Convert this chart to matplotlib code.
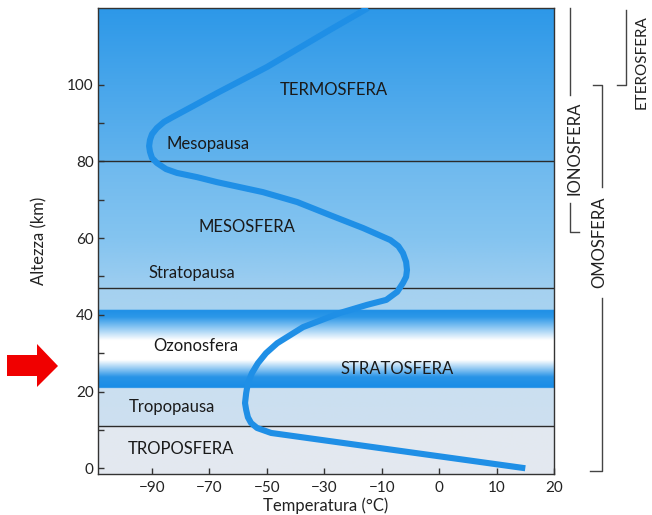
import numpy as np
import matplotlib
matplotlib.use('Agg')
import matplotlib.pyplot as plt
from matplotlib.patches import Polygon

plt.rcParams['font.family'] = ['Lato', 'DejaVu Sans']

# tick labels on the temperature axis (equally spaced on the page, uneven values)
tick_temps = [-90, -70, -50, -30, -10, 0, 10, 20]
alt_ticks = [0, 20, 40, 60, 80, 100]
alt_minor = [10, 30, 50, 70, 90]

# temperature profile (deg C, km)
temp = [15, -48.5, -53.4, -55.5, -56.6, -57.2, -57.6, -57.2, -56.6, -55.2, -53.1,
        -50.3, -46.4, -37.4, -24.5, -15.1, -9.2, -7.3, -6.3, -5.75, -5.6, -5.75,
        -6.3, -7.1, -8.5, -16.4, -28, -39.4, -51.4, -67.4, -74.3, -81.3, -85.1,
        -88.3, -90.0, -90.7, -91.0, -90.7, -90.0, -88.3, -85.8, -82.7, -75.0,
        -67.4, -50, -28, -14.8]
alt = [0, 9.2, 10.5, 11.8, 13.3, 15.2, 17.0, 19.6, 22.2, 24.8, 27.4,
       30.0, 32.6, 36.8, 40.5, 42.6, 43.9, 46.0, 48.3, 49.9, 51.7, 53.8,
       56.1, 57.9, 59.5, 62.6, 66.0, 69.4, 72.0, 74.6, 75.9, 77.0, 78.0,
       79.6, 80.9, 82.5, 84.0, 85.6, 87.1, 88.7, 90.3, 91.6, 94.7,
       97.8, 104.6, 114.3, 120.0]

# boundary lines (km)
pause_alts = [80, 47, 11]

# labels inside the plot: (text, x axes fraction, altitude)
layer_labels = [
    ('TERMOSFERA', 0.518, 98.5),
    ('Mesopausa', 0.241, 84.5),
    ('MESOSFERA', 0.327, 63.0),
    ('Stratopausa', 0.206, 51.0),
    ('Ozonosfera', 0.215, 32.0),
    ('STRATOSFERA', 0.656, 26.0),
    ('Tropopausa', 0.163, 16.0),
    ('TROPOSFERA', 0.182, 5.0),
]

# background colour stops (altitude, rgb)
bg_alt = [-1.5, 10.99, 11.01, 20.9, 20.91, 23.8, 28.2, 33.4, 39.4, 41.29, 41.31,
          46.99, 47.01, 60, 79.99, 80.01, 100, 120]
bg_rgb = [(228, 233, 240), (226, 232, 240), (205, 224, 240), (203, 223, 240),
          (25, 140, 230), (40, 148, 231), (255, 255, 255), (255, 255, 255),
          (45, 152, 232), (30, 143, 230), (168, 211, 240),
          (165, 209, 240), (158, 206, 240), (132, 196, 240), (110, 185, 238),
          (98, 179, 237), (72, 166, 235), (45, 152, 232)]

ylo, yhi = -1.5, 120

slot_t = np.array([-110] + tick_temps, dtype=float)
slot_i = np.arange(-1, len(tick_temps), dtype=float)


def fwd(t):
    return np.interp(t, slot_t, slot_i)


def inv(i):
    return np.interp(i, slot_i, slot_t)


fig = plt.figure(figsize=(6.52, 5.15), dpi=100)
pos = [98 / 652, 41 / 515, 456 / 652, 466 / 515]

# gradient background
bg = fig.add_axes(pos, zorder=0)
hh = np.linspace(ylo, yhi, 1500)
rgb = np.array(bg_rgb, dtype=float) / 255
col = np.stack([np.interp(hh, bg_alt, rgb[:, k]) for k in range(3)], axis=1)
bg.imshow(col[:, None, :], extent=(0, 1, ylo, yhi), origin='lower', aspect='auto',
          interpolation='bilinear')
bg.set_xlim(0, 1)
bg.set_ylim(ylo, yhi)
bg.axis('off')

ax = fig.add_axes(pos, zorder=1)
ax.patch.set_alpha(0)
ax.set_xscale('function', functions=(fwd, inv))
ax.set_xlim(-108.8, 20)
ax.set_ylim(ylo, yhi)

for a in pause_alts:
    ax.axhline(a, color='#2b2b2b', lw=1.0, zorder=2)

ax.plot(temp, alt, color='#1f8fe6', lw=4.4, solid_capstyle='butt',
        solid_joinstyle='round', zorder=3, clip_on=True)

for txt, xf, a in layer_labels:
    ax.text(xf, a, txt, transform=ax.get_yaxis_transform(), ha='center', va='center',
            fontsize=12, color='#1a1a1a', zorder=4)

ax.set_xticks(tick_temps)
ax.set_xticklabels(['\u2212' + str(-t) if t < 0 else str(t) for t in tick_temps])
ax.set_xticks([], minor=True)
ax.set_yticks(alt_ticks)
ax.set_yticks(alt_minor, minor=True)
ax.tick_params(which='both', direction='in', length=4.5, width=1, color='#333333',
               labelsize=11, labelcolor='#222222')
ax.tick_params(axis='y', pad=3)
ax.tick_params(axis='x', pad=5)
for s in ax.spines.values():
    s.set_color('#333333')
    s.set_linewidth(1.0)

ax.set_xlabel('Temperatura (°C)', fontsize=12, color='#222222', labelpad=2)
ax.set_ylabel('Altezza (km)', fontsize=12, color='#222222', labelpad=14)

# brackets on the right
tr = ax.get_yaxis_transform()
lk = dict(color='#444444', lw=1.0, transform=tr, clip_on=False)
ax.plot([1.035, 1.035], [120, 97.3], **lk)
ax.plot([1.035, 1.035, 1.055], [69.2, 61.6, 61.6], **lk)
ax.text(1.046, 83.3, 'IONOSFERA', transform=tr, rotation=90, ha='center', va='center',
        fontsize=12, color='#222222')

ax.plot([1.138, 1.158, 1.158], [100, 100, 119.5], **lk)
ax.text(1.193, 106, 'ETEROSFERA', transform=tr, rotation=90, ha='center', va='center',
        fontsize=11, color='#222222')

ax.plot([1.086, 1.105, 1.105], [100, 100, 73.3], **lk)
ax.plot([1.105, 1.105, 1.079], [44.4, -0.8, -0.8], **lk)
ax.text(1.099, 58.8, 'OMOSFERA', transform=tr, rotation=90, ha='center', va='center',
        fontsize=12, color='#222222')

# red arrow on the left
px = [(7, 355), (37, 355), (37, 344), (58, 366), (37, 387), (37, 376), (7, 376)]
arrow = Polygon([(x / 652, 1 - y / 515) for x, y in px], closed=True,
                transform=fig.transFigure, color='#f00000', lw=0)
fig.add_artist(arrow)

fig.savefig('out.png', dpi=100)
